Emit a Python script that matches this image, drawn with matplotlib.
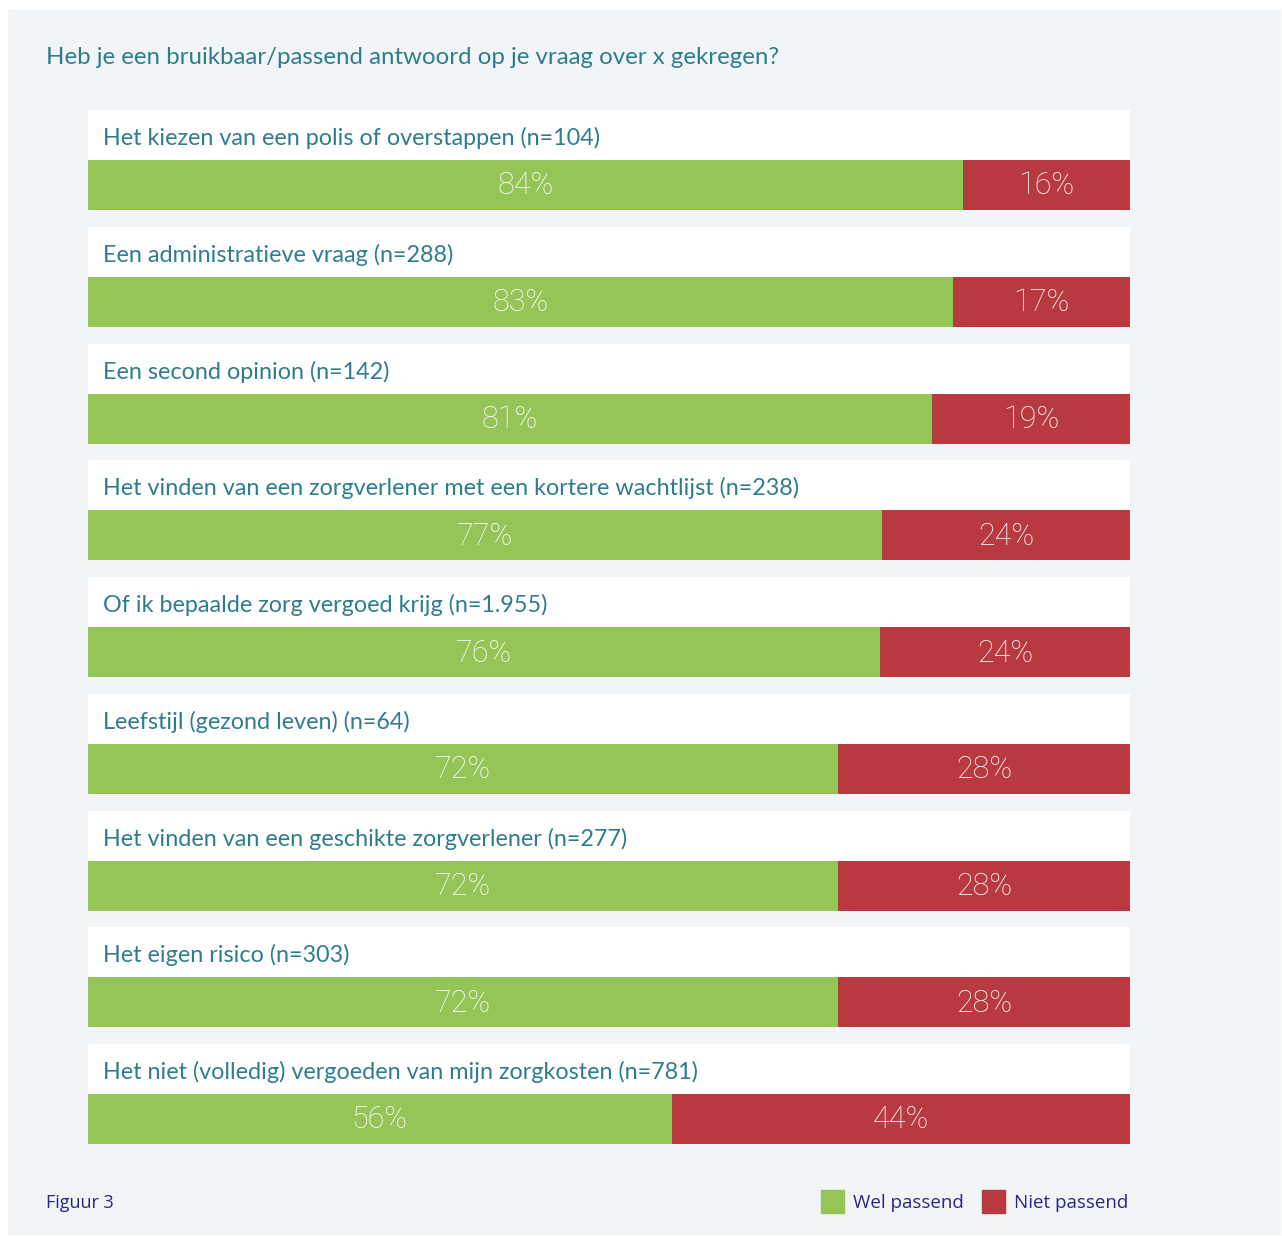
import matplotlib.pyplot as plt
from matplotlib.patches import Rectangle
import numpy as np

categories = [
    "Het kiezen van een polis of overstappen (n=104)",
    "Een administratieve vraag (n=288)",
    "Een second opinion (n=142)",
    "Het vinden van een zorgverlener met een kortere wachtlijst (n=238)",
    "Of ik bepaalde zorg vergoed krijg (n=1.955)",
    "Leefstijl (gezond leven) (n=64)",
    "Het vinden van een geschikte zorgverlener (n=277)",
    "Het eigen risico (n=303)",
    "Het niet (volledig) vergoeden van mijn zorgkosten (n=781)",
]
wel = np.array([84, 83, 81, 77, 76, 72, 72, 72, 56])
niet = np.array([16, 17, 19, 24, 24, 28, 28, 28, 44])

GREEN = "#95c457"
RED = "#b8393f"
TEAL = "#2f7d8c"
NAVY = "#2a2683"
PANEL = "#f1f5f8"

W, H = 1282, 1236
fig = plt.figure(figsize=(W / 100, H / 100), dpi=100)
fig.patch.set_facecolor("white")
fig.patches.append(Rectangle((8 / W, 2 / H), 1272 / W, 1224 / H,
                             transform=fig.transFigure, color=PANEL, zorder=-10))

# axes spans the bar area in pixels
left, right, top, bottom = 88, 1130, 110, 1144
ax = fig.add_axes([left / W, 1 - bottom / H, (right - left) / W, (bottom - top) / H])
ax.set_facecolor("none")
ax.set_zorder(1)

pitch = 116.75
box_h = 100
bar_h = 50
y0 = np.arange(len(categories)) * pitch

# normalise so each bar fills the full width
tot = wel + niet
wel_w = wel / tot * 100
niet_w = niet / tot * 100

ax.barh(y0, 100, height=box_h, align="edge", color="white", zorder=1)
ax.barh(y0 + bar_h, wel_w, height=bar_h, align="edge", color=GREEN, zorder=2)
ax.barh(y0 + bar_h, niet_w, left=wel_w, height=bar_h, align="edge", color=RED, zorder=2)

for i, cat in enumerate(categories):
    ax.text(1.45, y0[i] + 28, cat, ha="left", va="center", color=TEAL,
            fontsize=16.8, family="Lato")
    ax.text(wel_w[i] / 2, y0[i] + 76, f"{wel[i]}%", ha="center", va="center",
            color="white", fontsize=22, family="Roboto", fontweight="light", zorder=3)
    ax.text(wel_w[i] + niet_w[i] / 2, y0[i] + 76, f"{niet[i]}%", ha="center", va="center",
            color="white", fontsize=22, family="Roboto", fontweight="light", zorder=3)

ax.set_xlim(0, 100)
ax.set_ylim(bottom - top, 0)
ax.axis("off")

fig.text(46 / W, 1 - 57 / H, "Heb je een bruikbaar/passend antwoord op je vraag over x gekregen?",
         ha="left", va="center", color=TEAL, fontsize=17.3, family="Lato")
fig.text(46 / W, 1 - 1203 / H, "Figuur 3", ha="left", va="center", color=NAVY,
         fontsize=13, family="Open Sans")

legend_items = [("Wel passend", GREEN, 821), ("Niet passend", RED, 982)]
for label, col, x in legend_items:
    fig.patches.append(Rectangle((x / W, 1 - 1213 / H), 23 / W, 23 / H,
                                 transform=fig.transFigure, color=col, zorder=2))
    fig.text((x + 32) / W, 1 - 1203 / H, label, ha="left", va="center", color=NAVY,
             fontsize=13.5, family="Open Sans")

fig.savefig("out.png", dpi=100, facecolor=fig.get_facecolor())
